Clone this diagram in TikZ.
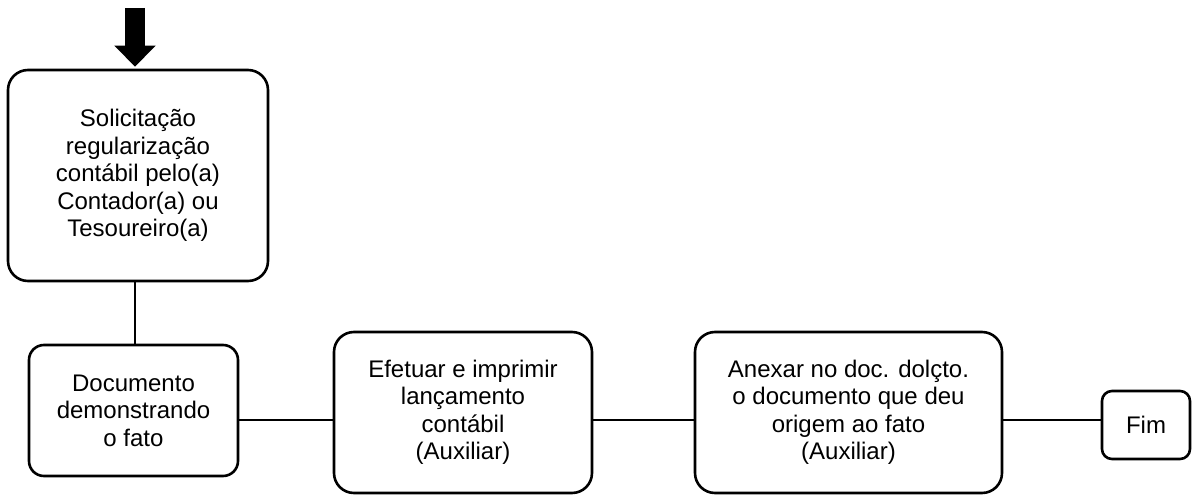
\documentclass[tikz,border=0pt]{standalone}
\usepackage{fontspec}
\setmainfont{Liberation Sans}
\usetikzlibrary{arrows.meta}
\begin{document}
\begin{tikzpicture}[x=1pt,y=-1pt,
  box/.style={draw=black, line width=2.6pt, fill=white, inner sep=0pt, align=center,
    font=\fontsize{24}{27.5}\selectfont},
  link/.style={draw=black, line width=2pt}]
\useasboundingbox (0,0) rectangle (1194,495);
\node[box, rounded corners=20pt, minimum width=260pt, minimum height=211pt] (b1) at (138,175.5)
  {Solicitação\\regularização\\contábil pelo(a)\\Contador(a) ou\\Tesoureiro(a)};
\node[box, rounded corners=15pt, minimum width=209pt, minimum height=131pt] (b2) at (133.5,410.5)
  {Documento\\demonstrando\\o fato};
\node[box, rounded corners=20pt, minimum width=258pt, minimum height=161pt] (b3) at (463,412.5)
  {Efetuar e imprimir\\lançamento\\contábil\\(Auxiliar)};
\node[box, rounded corners=20pt, minimum width=307pt, minimum height=161pt] (b4) at (848.5,412.5)
  {Anexar no doc. dolçto.\\o documento que deu\\origem ao fato\\(Auxiliar)};
\node[box, rounded corners=10pt, minimum width=88pt, minimum height=68pt] (fim) at (1146,425)
  {Fim};
\coordinate (start) at (135,8);
\coordinate (ly) at (0,420);
\draw[line width=20pt, -{Triangle[width=40pt,length=21pt]}, shorten >=2pt] (start) -- (start |- b1.north);
\draw[link] (b1.south -| start) -- (b2.north -| start);
\draw[link] (b2.east |- ly) -- (b3.west |- ly);
\draw[link] (b3.east |- ly) -- (b4.west |- ly);
\draw[link] (b4.east |- ly) -- (fim.west |- ly);
\end{tikzpicture}
\end{document}
